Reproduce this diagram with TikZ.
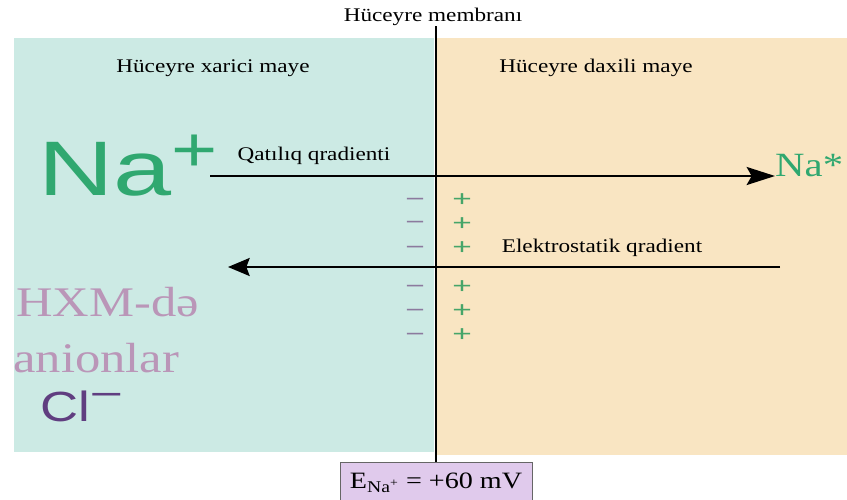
\documentclass[tikz,border=0pt]{standalone}
\usepackage{fontspec}
\setmainfont[FakeStretch=1.2]{Liberation Serif}
\setsansfont[FakeStretch=1.25]{Liberation Sans}
\usepackage{tikz}
\usetikzlibrary{arrows.meta, positioning}
\definecolor{outside}{RGB}{204,234,228}
\definecolor{inside}{RGB}{249,229,194}
\definecolor{nagreen}{RGB}{48,168,112}
\definecolor{plusgreen}{RGB}{70,165,105}
\definecolor{anion}{RGB}{186,150,184}
\definecolor{chlor}{RGB}{96,62,128}
\definecolor{minus}{RGB}{140,122,158}
\definecolor{boxfill}{RGB}{224,202,236}

\begin{document}
\begin{tikzpicture}[x=0.03cm, y=-0.03cm, font=\fontsize{16.5}{18}\selectfont,
  t/.style={inner sep=0pt},
  big/.style={inner sep=0pt, anchor=base west, text=anion, font=\fontsize{36}{40}\selectfont},
  mn/.style={inner sep=0pt, text=minus, font=\sffamily\fontsize{19}{19}\selectfont},
  pl/.style={inner sep=0pt, text=plusgreen, font=\sffamily\fontsize{19}{19}\selectfont},
  e/.style={rectangle, draw=gray!80!black, fill=boxfill, line width=0.8pt,
            minimum width=5.76cm, minimum height=1.2cm, anchor=north},
  a/.style={line width=2pt}]
  \useasboundingbox (0,0) rectangle (847,499);
  \fill[outside] (14,38) rectangle (434,452);
  \fill[inside] (437,38) rectangle (847,455);

  \node[t] (mem) at (433,17) {Hüceyre membranı};
  \node[t] (xar) at (213,68) {Hüceyre xarici maye};
  \node[t] (dax) at (596,68) {Hüceyre daxili maye};

  \node[t, anchor=base west, text=nagreen, font=\sffamily\fontsize{66}{70}\selectfont] (naout) at (38,195)
    {\scalebox{1.08}[1]{Na}\raisebox{0.3em}{\fontsize{54}{54}\selectfont+}};
  \node[t] (qat) at (314,156) {Qatılıq qradienti};
  \node[t, anchor=base west, text=nagreen, font=\fontsize{29}{30}\selectfont] (nain) at (775,176) {Na*};
  \node[t] (ele) at (602,248) {Elektrostatik qradient};

  \node[big] (hxm) at (16,316) {HXM-də};
  \node[big] (ani) at (13,372) {anionlar};
  \node[t, anchor=base west, text=chlor, font=\sffamily\fontsize{36}{40}\selectfont] (cl) at (40,421)
    {Cl\raisebox{16pt}{\fontsize{20}{20}\selectfont\bfseries\scalebox{1.9}[1]{−}}};

  % membrane charges
  \node[mn] (m1) at (415,202) {\scalebox{1.2}[1]{−}}; \node[pl] (p1) at (462,200) {\scalebox{1.2}[1]{+}};
  \node[mn] (m2) at (415,225) {\scalebox{1.2}[1]{−}}; \node[pl] (p2) at (462,224) {\scalebox{1.2}[1]{+}};
  \node[mn] (m3) at (415,250) {\scalebox{1.2}[1]{−}}; \node[pl] (p3) at (462,248) {\scalebox{1.2}[1]{+}};
  \node[mn] (m4) at (415,289) {\scalebox{1.2}[1]{−}}; \node[pl] (p4) at (462,287) {\scalebox{1.2}[1]{+}};
  \node[mn] (m5) at (415,313) {\scalebox{1.2}[1]{−}}; \node[pl] (p5) at (462,311) {\scalebox{1.2}[1]{+}};
  \node[mn] (m6) at (415,337) {\scalebox{1.2}[1]{−}}; \node[pl] (p6) at (462,335) {\scalebox{1.2}[1]{+}};

  \node[e, font=\fontsize{20}{22}\selectfont] (pot) at (436,462) {E\textsubscript{Na\textsuperscript{+}} = +60 mV};
  \draw[line width=1.6pt] (pot.north) -- (pot.north |- mem.south);

  \coordinate (qa) at (210,176);
  \coordinate (eb) at (780,267);
  \coordinate (ea) at (228,267);
  \draw[a, -{Stealth[length=8.5mm, width=5.4mm, inset=1.5mm]}] (qa) -- (qa -| nain.west);
  \draw[a, -{Stealth[length=6.5mm, width=5.4mm, inset=1mm]}] (eb) -- (ea);
\end{tikzpicture}
\end{document}
